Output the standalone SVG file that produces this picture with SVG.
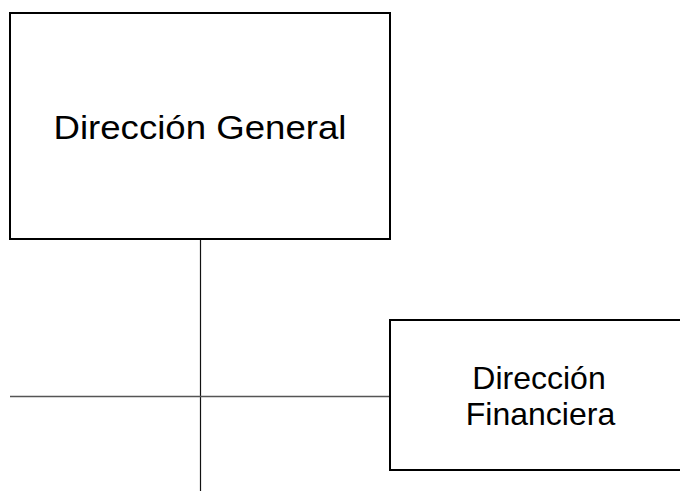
<svg xmlns="http://www.w3.org/2000/svg" width="680" height="491" viewBox="0 0 680 491">
<style>
.box{fill:#ffffff;stroke:#000000;stroke-width:2}
.lbl{font-family:"Liberation Sans",Arial,sans-serif;fill:#000000;text-anchor:middle}
.conn{stroke:#111111;stroke-width:1.2;fill:none}
.conn2{stroke:#555555;stroke-width:1.5;fill:none}
</style>
<rect width="680" height="491" fill="#ffffff"/>
<g id="connectors">
<line class="conn" x1="200.5" y1="239" x2="200.5" y2="491"/>
<line class="conn2" x1="10" y1="396.5" x2="390" y2="396.5"/>
</g>
<g id="node-direccion-general">
<rect class="box" x="10" y="13" width="380" height="226"/>
<text class="lbl" x="200" y="138.5" font-size="33" textLength="293" lengthAdjust="spacingAndGlyphs">Dirección General</text>
</g>
<g id="node-direccion-financiera">
<rect class="box" x="390" y="320" width="300" height="150"/>
<text class="lbl" x="539" y="388.5" font-size="32">Dirección</text>
<text class="lbl" x="540.5" y="425" font-size="32">Financiera</text>
</g>
</svg>
